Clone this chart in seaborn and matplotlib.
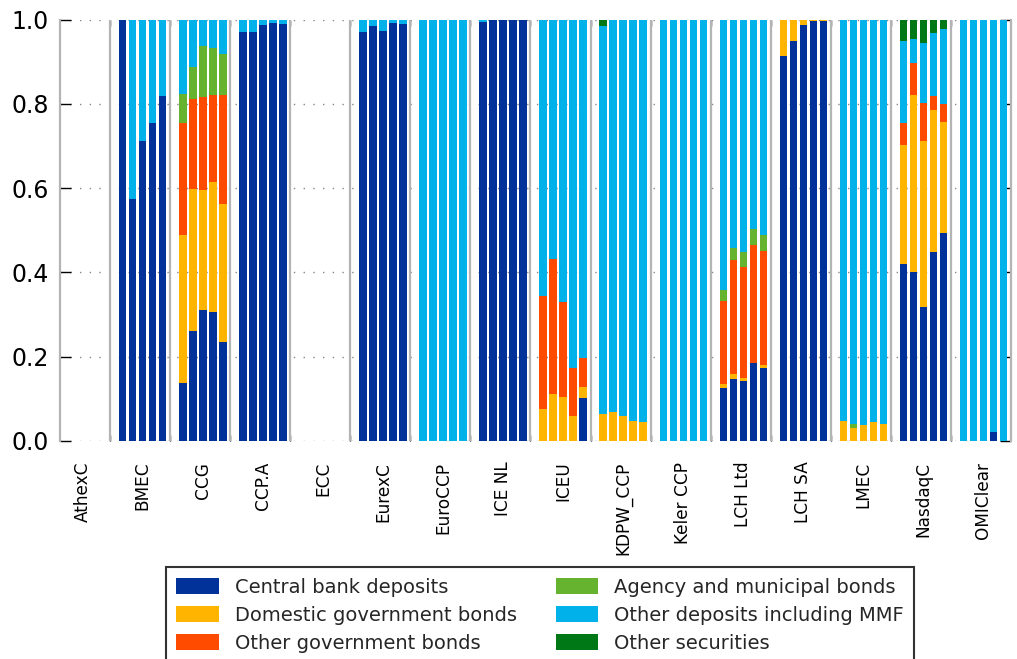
import numpy as np
import pandas as pd
import matplotlib
matplotlib.use('Agg')
import matplotlib.pyplot as plt
import seaborn as sns

ccps = ['AthexC', 'BMEC', 'CCG', 'CCP.A', 'ECC', 'EurexC', 'EuroCCP', 'ICE NL',
        'ICEU', 'KDPW_CCP', 'Keler CCP', 'LCH Ltd', 'LCH SA', 'LMEC', 'NasdaqC', 'OMIClear']

categories = ['Central bank deposits', 'Domestic government bonds', 'Other government bonds',
              'Agency and municipal bonds', 'Other deposits including MMF', 'Other securities']
colors = ['#003299', '#FFB400', '#FF4B00', '#65B32E', '#00B1EA', '#007816']

# five quarters per CCP, shares of cash collateral invested
cb_deposits = [
    [0, 0, 0, 0, 0],
    [1.0, 0.574, 0.711, 0.755, 0.819],
    [0.137, 0.261, 0.311, 0.307, 0.234],
    [0.971, 0.971, 0.988, 0.992, 0.991],
    [0, 0, 0, 0, 0],
    [0.971, 0.986, 0.973, 0.992, 0.991],
    [0, 0, 0, 0, 0],
    [0.995, 1.0, 1.0, 1.0, 1.0],
    [0, 0, 0, 0, 0.101],
    [0, 0, 0, 0, 0],
    [0, 0, 0, 0, 0],
    [0.125, 0.147, 0.143, 0.185, 0.174],
    [0.914, 0.949, 0.987, 0.996, 0.996],
    [0, 0, 0, 0, 0],
    [0.420, 0.402, 0.317, 0.448, 0.493],
    [0, 0, 0, 0.022, 0],
]
domestic_gov = [
    [0, 0, 0, 0, 0],
    [0, 0, 0, 0, 0],
    [0.351, 0.338, 0.285, 0.307, 0.329],
    [0, 0, 0, 0, 0],
    [0, 0, 0, 0, 0],
    [0, 0, 0, 0, 0],
    [0, 0, 0, 0, 0],
    [0, 0, 0, 0, 0],
    [0.075, 0.111, 0.104, 0.059, 0.028],
    [0.064, 0.068, 0.058, 0.048, 0.046],
    [0, 0, 0, 0, 0],
    [0.010, 0.012, 0.006, 0.0, 0.007],
    [0.086, 0.051, 0.013, 0.004, 0.004],
    [0.048, 0.030, 0.038, 0.046, 0.040],
    [0.283, 0.420, 0.396, 0.338, 0.265],
    [0, 0, 0, 0, 0],
]
other_gov = [
    [0, 0, 0, 0, 0],
    [0, 0, 0, 0, 0],
    [0.267, 0.213, 0.220, 0.208, 0.259],
    [0, 0, 0, 0, 0],
    [0, 0, 0, 0, 0],
    [0, 0, 0, 0, 0],
    [0, 0, 0, 0, 0],
    [0, 0, 0, 0, 0],
    [0.269, 0.321, 0.225, 0.114, 0.067],
    [0, 0, 0, 0, 0],
    [0, 0, 0, 0, 0],
    [0.196, 0.271, 0.264, 0.281, 0.271],
    [0, 0, 0, 0, 0],
    [0, 0, 0, 0, 0],
    [0.052, 0.075, 0.089, 0.034, 0.042],
    [0, 0, 0, 0, 0],
]
agency_muni = [
    [0, 0, 0, 0, 0],
    [0, 0, 0, 0, 0],
    [0.069, 0.075, 0.121, 0.111, 0.097],
    [0, 0, 0, 0, 0],
    [0, 0, 0, 0, 0],
    [0, 0, 0, 0, 0],
    [0, 0, 0, 0, 0],
    [0, 0, 0, 0, 0],
    [0, 0, 0, 0, 0],
    [0, 0, 0, 0, 0],
    [0, 0, 0, 0, 0],
    [0.028, 0.028, 0.035, 0.037, 0.037],
    [0, 0, 0, 0, 0],
    [0, 0.010, 0, 0, 0],
    [0, 0, 0, 0, 0],
    [0, 0, 0, 0, 0],
]
other_deposits = [
    [0, 0, 0, 0, 0],
    [0, 0.426, 0.289, 0.245, 0.181],
    [0.176, 0.113, 0.063, 0.067, 0.081],
    [0.029, 0.029, 0.012, 0.008, 0.009],
    [0, 0, 0, 0, 0],
    [0.029, 0.014, 0.027, 0.008, 0.009],
    [1.0, 1.0, 1.0, 1.0, 1.0],
    [0.005, 0, 0, 0, 0],
    [0.656, 0.568, 0.671, 0.827, 0.804],
    [0.922, 0.932, 0.942, 0.952, 0.954],
    [1.0, 1.0, 1.0, 1.0, 1.0],
    [0.641, 0.542, 0.552, 0.497, 0.511],
    [0, 0, 0, 0, 0],
    [0.952, 0.960, 0.962, 0.954, 0.960],
    [0.194, 0.057, 0.144, 0.148, 0.178],
    [1.0, 1.0, 1.0, 0.978, 1.0],
]
other_securities = [
    [0, 0, 0, 0, 0],
    [0, 0, 0, 0, 0],
    [0, 0, 0, 0, 0],
    [0, 0, 0, 0, 0],
    [0, 0, 0, 0, 0],
    [0, 0, 0, 0, 0],
    [0, 0, 0, 0, 0],
    [0, 0, 0, 0, 0],
    [0, 0, 0, 0, 0],
    [0.014, 0, 0, 0, 0],
    [0, 0, 0, 0, 0],
    [0, 0, 0, 0, 0],
    [0, 0, 0, 0, 0],
    [0, 0, 0, 0, 0],
    [0.051, 0.046, 0.054, 0.032, 0.022],
    [0, 0, 0, 0, 0],
]

series = [cb_deposits, domestic_gov, other_gov, agency_muni, other_deposits, other_securities]
n_q = 5
slot = n_q + 1  # one empty slot between CCP groups

df = pd.DataFrame({cat: np.ravel(vals) for cat, vals in zip(categories, series)})
df['ccp'] = np.repeat(ccps, n_q)
df['x'] = [slot * g + q for g in range(len(ccps)) for q in range(n_q)]

sns.set_style('white')
plt.rcParams['font.family'] = ['DejaVu Sans']
palette = sns.color_palette(colors)

fig = plt.figure(figsize=(10.17, 6.59), dpi=100)
ax = fig.add_axes([0.059, 0.331, 0.935, 0.639])

bottom = np.zeros(len(df))
for cat, col in zip(categories, palette):
    ax.bar(df['x'], df[cat], width=0.74, bottom=bottom, color=col, linewidth=0, label=cat, zorder=2)
    bottom += df[cat].to_numpy()

seps = [slot * g + 4.74 for g in range(len(ccps) - 1)]
for s in seps:
    ax.axvline(s, color='#b4b4b4', lw=1.6, zorder=1)

ax.set_xlim(-0.27, slot * (len(ccps) - 1) + 4.74)
ax.set_ylim(0, 1)
for side in ['top', 'bottom']:
    ax.spines[side].set_visible(False)
for side in ['left', 'right']:
    ax.spines[side].set_color('#b4b4b4')
    ax.spines[side].set_linewidth(1.6)

ax.set_yticks(np.arange(0, 1.01, 0.2))
ax.set_yticklabels(['0.0', '0.2', '0.4', '0.6', '0.8', '1.0'])
ax.yaxis.grid(True, color='#888888', linestyle=(0, (1, 6)), linewidth=1.0)
ax.set_axisbelow(True)
ax.tick_params(axis='y', direction='in', length=8, width=1, left=True, right=True,
               labelsize=17, pad=8, colors='black')

centers = [slot * g + 2 for g in range(len(ccps))]
ax.set_xticks(centers)
ax.set_xticklabels(ccps, rotation=90, fontsize=12.2)
ax.set_xticks(seps, minor=True)
ax.tick_params(axis='x', which='major', length=0, pad=15, colors='black')
ax.tick_params(axis='x', which='minor', direction='in', length=4, width=1,
               top=True, bottom=True, color='black')

leg = fig.legend(loc='upper center', bbox_to_anchor=(0.531, 0.139), ncol=2, fontsize=14,
                 frameon=True, fancybox=False, edgecolor='black', handlelength=2.2,
                 handleheight=0.9, labelspacing=0.45, columnspacing=2.0, borderpad=0.55,
                 borderaxespad=0.0)
leg.get_frame().set_linewidth(1.5)

fig.savefig('out.png', dpi=100)
